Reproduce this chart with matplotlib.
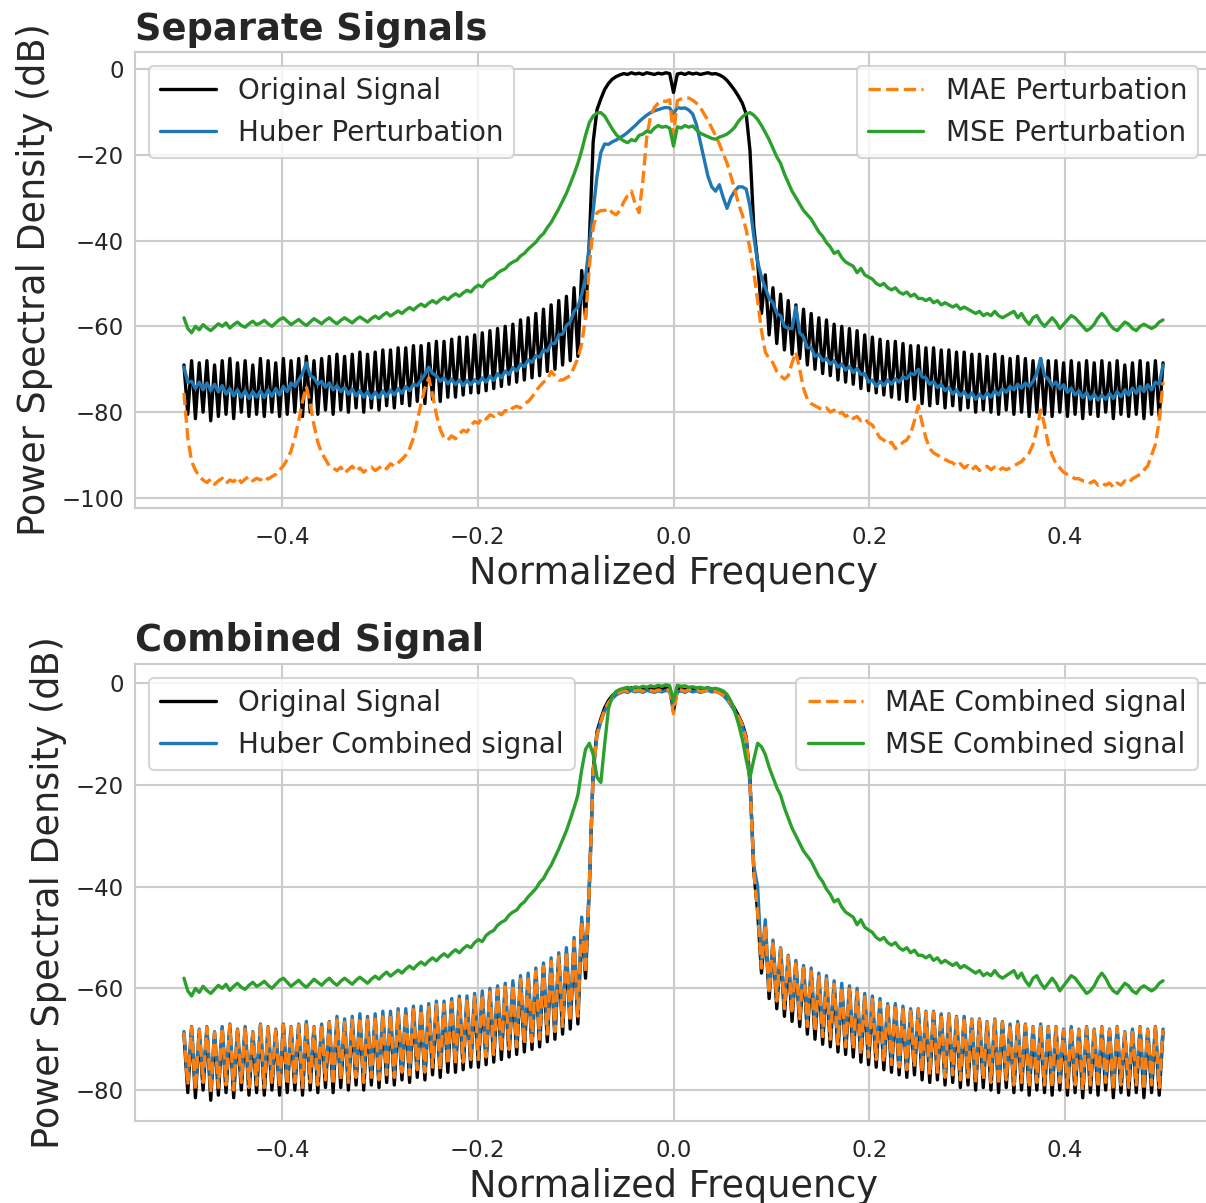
import numpy as np
import matplotlib
matplotlib.use("Agg")
import matplotlib.pyplot as plt
from matplotlib.ticker import MultipleLocator

# ---------------------------------------------------------------------------
# Power spectral densities (dB) sampled on a 257-bin normalized frequency grid
# ---------------------------------------------------------------------------
n_bins = 257
freq = np.linspace(-0.5, 0.5, n_bins)

original_psd = [
    -69.0, -80.5, -68.0, -81.5, -68.5, -80.0, -68.0, -82.0, -69.0, -81.0,
    -68.0, -80.5, -67.5, -81.5, -68.5, -80.0, -68.0, -81.0, -69.0, -80.5,
    -67.5, -81.0, -68.0, -80.0, -68.5, -81.0, -67.5, -80.5, -68.0, -80.0,
    -67.5, -81.0, -67.0, -80.0, -68.0, -80.5, -67.5, -79.5, -67.0, -80.5,
    -66.5, -79.5, -67.0, -80.0, -66.5, -79.0, -66.0, -80.0, -66.5, -79.0,
    -66.0, -79.5, -65.5, -78.5, -65.5, -79.0, -65.0, -78.0, -65.0, -78.5,
    -64.5, -77.5, -64.5, -78.0, -64.0, -77.0, -63.5, -77.5, -63.5, -76.5,
    -63.0, -76.5, -62.5, -76.0, -62.5, -75.5, -62.0, -75.5, -61.5, -75.0,
    -61.0, -74.5, -60.5, -74.0, -60.0, -73.5, -59.5, -73.0, -58.5, -72.5,
    -58.0, -72.0, -57.0, -71.5, -56.0, -70.5, -55.0, -70.0, -54.0, -69.0,
    -53.0, -68.0, -51.0, -67.0, -47.0, -58.0, -40.0, -17.0,
    -9.5, -7.0, -4.8, -3.4, -2.4, -1.8, -1.4, -1.1, -1.3, -0.9,
    -1.2, -1.0, -1.3, -0.9, -1.1, -1.3, -1.0, -1.2, -0.9, -1.1,
    -5.5, -1.2, -1.0, -1.3, -0.9, -1.2, -1.0, -1.3, -1.1, -0.9,
    -1.2, -1.1, -1.4, -1.9, -2.7, -3.8, -5.0, -6.4, -8.0, -10.5,
    -19.0, -37.0, -45.0, -57.0, -48.0, -62.0,
    -51.0, -64.0, -52.5, -65.5, -54.0, -66.5, -55.0, -67.5, -56.0, -69.0,
    -57.0, -70.0, -58.0, -71.0, -58.5, -71.5, -59.5, -72.5, -60.0, -73.0,
    -60.5, -73.5, -61.0, -74.5, -62.0, -75.0, -62.5, -75.5, -63.0, -76.0,
    -63.5, -76.5, -63.5, -77.0, -64.0, -77.5, -64.5, -77.0, -64.5, -78.0,
    -65.0, -78.5, -65.0, -78.0, -65.5, -79.0, -65.5, -78.5, -66.0, -79.5,
    -66.0, -79.0, -66.5, -80.0, -66.5, -79.5, -67.0, -80.0, -66.5, -80.5,
    -67.0, -79.5, -67.5, -80.5, -67.0, -80.0, -67.5, -81.0, -68.0, -80.0,
    -67.5, -80.5, -68.0, -81.0, -68.0, -80.0, -68.5, -81.0, -68.0, -80.5,
    -68.5, -81.5, -68.0, -80.5, -68.5, -81.0, -68.0, -80.0, -68.5, -81.5,
    -68.0, -80.5, -69.0, -81.0, -68.5, -80.5, -68.0, -81.5, -68.5, -80.5,
    -68.0, -81.0, -68.5,
]

huber_perturbation = [
    -69.5, -73.0, -72.8, -74.5, -73.0, -74.8, -73.2, -75.0, -73.5, -75.3,
    -73.8, -75.8, -74.5, -76.2, -74.8, -76.5, -75.0, -76.8, -75.2, -76.5,
    -75.0, -76.6, -74.8, -76.3, -74.5, -76.0, -74.0, -75.2, -73.2, -74.0,
    -72.5, -71.0, -68.5, -71.5, -72.0, -73.5, -72.8, -74.2, -73.2, -74.8,
    -73.8, -75.2, -74.2, -75.8, -74.6, -76.2, -75.0, -76.5, -75.2, -76.8,
    -75.3, -76.6, -75.0, -76.4, -74.8, -76.0, -74.5, -75.6, -74.0, -75.0,
    -73.5, -73.8, -72.5, -71.2, -69.5, -71.0, -71.5, -72.8, -72.0, -73.4,
    -72.3, -73.6, -72.5, -73.8, -72.6, -73.6, -72.4, -73.3, -72.0, -73.0,
    -71.6, -72.6, -71.0, -72.0, -70.4, -71.2, -69.6, -70.4, -68.8, -69.4,
    -67.8, -68.4, -66.8, -67.2, -65.5, -65.8, -64.0, -64.0, -62.0, -61.8,
    -59.8, -59.0, -56.5, -55.5, -52.5, -48.5, -41.0, -33.0, -25.0, -19.5,
    -17.5, -17.6, -17.0, -16.6, -16.0, -15.5, -14.8, -14.0, -13.2, -12.3,
    -11.5, -10.8, -10.2, -9.8, -9.5, -9.2, -9.0, -9.1, -10.5, -9.0,
    -9.2, -9.1, -9.6, -10.5, -13.0, -17.0, -21.0, -25.0, -27.5, -28.5,
    -27.0, -30.0, -32.5, -30.0, -28.5, -27.5, -27.5, -28.0, -32.0, -39.0,
    -45.0, -48.5, -51.0, -53.5, -54.5, -57.0, -57.5, -60.0, -60.5, -60.5,
    -55.5, -61.5, -62.5, -65.0, -65.0, -67.0, -66.5, -68.0, -67.5, -68.8,
    -68.0, -69.5, -68.8, -70.2, -69.3, -70.8, -69.8, -71.2, -71.0, -73.0,
    -72.5, -74.0, -72.8, -73.8, -72.5, -73.5, -72.2, -73.0, -71.8, -72.2,
    -71.0, -71.2, -70.0, -71.8, -72.0, -73.5, -72.8, -74.3, -73.5, -75.0,
    -74.2, -75.8, -74.8, -76.2, -75.2, -76.6, -75.5, -77.0, -75.8, -76.8,
    -75.5, -76.5, -75.0, -76.0, -74.5, -75.4, -74.0, -74.8, -73.5, -74.4,
    -73.2, -74.0, -72.8, -71.0, -67.5, -71.5, -72.3, -73.8, -73.0, -74.6,
    -73.6, -75.4, -74.4, -76.0, -75.0, -76.6, -75.4, -77.0, -75.8, -77.2,
    -76.0, -77.0, -75.6, -76.8, -75.2, -76.4, -74.8, -76.0, -74.4, -75.6,
    -74.0, -75.2, -73.6, -74.8, -73.0, -73.5, -69.0,
]

mae_perturbation = [
    -75.5, -86.0, -91.5, -93.5, -95.0, -95.8, -96.4, -95.6, -96.8, -96.0,
    -95.4, -96.6, -95.8, -96.2, -95.2, -96.4, -95.6, -95.0, -96.0, -95.4,
    -95.8, -95.0, -95.6, -95.0, -94.5, -93.5, -92.5, -91.0, -89.0, -86.0,
    -82.0, -77.5, -74.0, -78.0, -83.0, -87.0, -89.5, -91.0, -92.5, -93.0,
    -93.6, -92.8, -94.2, -93.4, -92.6, -93.8, -93.0, -94.0, -93.2, -92.8,
    -93.6, -93.0, -92.4, -93.2, -92.0, -92.6, -91.8, -91.0, -90.0, -88.5,
    -86.0, -82.0, -78.0, -74.5, -72.0, -76.0, -80.5, -84.0, -86.0, -86.5,
    -85.5, -86.2, -85.0, -84.2, -84.6, -83.2, -82.2, -82.6, -81.2, -81.6,
    -80.6, -81.0, -80.0, -80.6, -79.6, -80.0, -79.0, -78.6, -79.0, -78.0,
    -77.5, -76.5, -75.0, -74.0, -73.0, -72.5, -70.5, -71.5, -72.5, -72.5,
    -72.0, -71.5, -69.5, -67.5, -64.0, -58.0, -46.0, -37.0, -33.5, -33.0,
    -33.0, -32.5, -33.5, -34.0, -33.0, -31.0, -29.5, -28.5, -31.5, -33.5,
    -26.0, -16.0, -11.0, -9.0, -8.0, -7.4, -7.6, -7.2, -15.5, -7.4,
    -7.0, -6.7, -6.8, -7.3, -8.0, -9.0, -10.5, -12.0, -13.8, -15.5,
    -17.5, -19.8, -22.0, -25.0, -28.0, -31.5, -34.0, -37.5, -42.0, -47.5,
    -54.0, -61.0, -66.0, -67.5, -68.5, -70.5, -71.5, -72.3, -71.5, -68.5,
    -66.0, -70.0, -74.5, -77.0, -78.0, -78.5, -79.0, -79.5, -79.0, -80.0,
    -79.5, -80.5, -80.0, -81.0, -80.5, -81.5, -81.0, -82.0, -81.5, -82.5,
    -83.0, -84.5, -86.0, -86.5, -87.5, -87.0, -88.5, -88.0, -87.0, -86.5,
    -85.0, -82.0, -78.5, -82.5, -86.0, -88.5, -89.5, -90.0, -90.5, -91.0,
    -91.5, -91.8, -92.6, -92.0, -93.0, -92.4, -93.4, -92.6, -93.6, -93.0,
    -92.6, -93.4, -92.8, -93.6, -93.0, -93.4, -93.0, -92.5, -92.0, -91.5,
    -90.5, -89.5, -87.5, -84.0, -79.5, -83.0, -87.5, -90.0, -92.0, -93.0,
    -94.0, -94.5, -95.0, -95.5, -95.5, -96.0, -96.0, -96.5, -96.0, -97.0,
    -96.5, -97.0, -96.5, -97.5, -96.5, -97.0, -96.0, -96.5, -95.5, -95.0,
    -94.5, -93.5, -92.5, -90.0, -87.5, -82.0, -73.0,
]

mse_perturbation = [
    -58.0, -60.5, -61.5, -60.0, -60.8, -59.6, -60.4, -61.0, -60.2, -59.4,
    -60.0, -59.2, -60.4, -59.6, -59.0, -59.8, -60.2, -59.4, -58.8, -59.6,
    -59.2, -58.6, -59.4, -60.0, -59.2, -58.4, -58.0, -58.8, -59.6, -59.0,
    -58.4, -59.2, -59.8, -59.0, -58.2, -58.8, -59.4, -58.6, -58.0, -58.8,
    -59.4, -58.6, -58.0, -58.6, -59.2, -58.4, -57.8, -58.4, -59.0, -58.2,
    -57.6, -58.2, -57.4, -56.8, -57.6, -57.0, -56.4, -57.0, -56.2, -55.6,
    -56.2, -55.4, -54.8, -55.4, -54.6, -54.0, -54.6, -53.8, -53.2, -53.8,
    -53.0, -52.4, -53.0, -52.2, -51.6, -52.0, -51.0, -50.4, -50.8, -49.6,
    -49.0, -48.6, -47.6, -47.0, -46.6, -45.6, -45.0, -44.6, -43.6, -43.0,
    -42.0, -41.2, -40.4, -39.2, -38.4, -37.0, -35.8, -34.2, -32.6, -30.8,
    -29.0, -26.8, -24.5, -22.0, -19.0, -15.5, -12.5, -11.0, -10.3, -10.2,
    -11.0, -12.5, -14.0, -15.3, -16.2, -16.8, -17.2, -16.5, -16.8, -15.5,
    -15.2, -14.5, -14.8, -13.8, -13.2, -13.6, -13.4, -13.8, -18.0, -13.5,
    -13.8, -13.2, -13.6, -13.3, -14.2, -15.0, -15.4, -15.8, -16.2, -16.4,
    -15.9, -15.6, -15.2, -14.5, -13.6, -12.2, -11.2, -10.5, -10.2, -10.8,
    -11.8, -13.2, -14.8, -16.5, -18.5, -20.5, -22.0, -24.5, -26.5, -28.5,
    -30.0, -31.5, -33.0, -34.0, -35.0, -36.5, -38.0, -39.0, -40.5, -41.5,
    -43.0, -42.5, -44.0, -45.0, -45.5, -46.0, -47.5, -46.5, -48.0, -48.5,
    -49.0, -50.0, -50.5, -50.0, -51.0, -51.5, -51.0, -52.0, -52.5, -52.0,
    -53.0, -52.5, -53.5, -53.5, -54.0, -53.5, -54.5, -54.0, -55.0, -54.5,
    -55.0, -55.5, -55.0, -56.0, -55.5, -56.0, -56.5, -57.0, -56.5, -57.5,
    -57.0, -57.5, -56.5, -57.5, -58.0, -57.5, -57.0, -56.5, -58.0, -57.0,
    -58.5, -59.5, -58.0, -57.5, -59.0, -60.0, -59.0, -58.0, -59.0, -60.5,
    -59.5, -58.5, -57.5, -58.0, -59.0, -60.0, -61.0, -60.5, -59.5, -58.0,
    -57.0, -58.0, -59.5, -60.5, -61.0, -60.0, -59.0, -59.5, -60.5, -61.0,
    -60.0, -59.5, -60.0, -60.5, -60.0, -59.0, -58.5,
]

huber_combined = [
    -68.5, -78.0, -67.5, -79.0, -68.0, -77.5, -67.5, -79.5, -68.5, -78.5,
    -67.5, -78.0, -67.0, -79.0, -68.0, -77.5, -67.5, -78.5, -68.5, -78.0,
    -67.0, -78.5, -67.5, -77.5, -68.0, -78.5, -67.0, -78.0, -67.5, -77.5,
    -67.0, -78.5, -66.5, -77.5, -67.5, -78.0, -67.0, -77.0, -66.5, -78.0,
    -65.5, -77.0, -66.0, -77.5, -65.5, -76.5, -65.0, -77.5, -65.5, -76.5,
    -65.0, -77.0, -64.5, -76.0, -64.5, -76.5, -64.0, -75.5, -64.0, -76.0,
    -63.5, -75.0, -63.5, -75.5, -63.0, -74.5, -62.5, -75.0, -62.5, -74.0,
    -62.0, -74.0, -61.5, -73.5, -61.5, -73.0, -61.0, -73.0, -60.5, -72.5,
    -60.0, -72.0, -59.5, -71.5, -59.0, -71.0, -58.5, -70.5, -57.5, -70.0,
    -57.0, -69.5, -56.0, -69.0, -55.0, -68.0, -54.0, -67.5, -53.0, -66.5,
    -52.0, -65.5, -50.0, -64.5, -46.0, -56.0, -39.5, -17.5,
    -10.2, -7.6, -5.4, -4.0, -3.0, -2.3, -1.9, -1.6, -1.8, -1.4,
    -1.7, -1.5, -1.8, -1.4, -1.6, -1.8, -1.5, -1.7, -1.4, -1.6,
    -4.5, -1.7, -1.5, -1.8, -1.4, -1.7, -1.5, -1.8, -1.6, -1.4,
    -1.7, -1.6, -1.9, -2.4, -3.2, -4.3, -5.5, -6.9, -8.5, -11.0,
    -20.0, -36.0, -40.0, -55.0, -46.5, -60.5,
    -50.5, -61.5, -52.0, -63.0, -53.5, -64.0, -54.5, -65.0, -55.5, -66.5,
    -56.0, -67.5, -57.0, -68.5, -57.5, -69.0, -58.5, -70.0, -59.0, -70.5,
    -59.5, -71.0, -60.0, -72.0, -61.0, -72.5, -61.5, -73.0, -62.0, -73.5,
    -63.0, -74.0, -63.0, -74.5, -63.5, -75.0, -64.0, -74.5, -64.0, -75.5,
    -64.5, -76.0, -64.5, -75.5, -65.0, -76.5, -65.0, -76.0, -65.5, -77.0,
    -65.5, -76.5, -66.0, -77.5, -66.0, -77.0, -66.5, -77.5, -66.0, -78.0,
    -66.5, -77.0, -67.0, -78.0, -66.5, -77.5, -67.0, -78.5, -67.5, -77.5,
    -67.0, -78.0, -67.5, -78.5, -67.5, -77.5, -68.0, -78.5, -67.5, -78.0,
    -68.0, -79.0, -67.5, -78.0, -68.0, -78.5, -67.5, -77.5, -68.0, -79.0,
    -67.5, -78.0, -68.5, -78.5, -68.0, -78.0, -67.5, -79.0, -68.0, -78.0,
    -67.5, -78.5, -68.0,
]

mae_combined = [
    -68.7, -79.0, -67.7, -80.0, -68.2, -78.5, -67.7, -80.5, -68.7, -79.5,
    -67.7, -79.0, -67.2, -80.0, -68.2, -78.5, -67.7, -79.5, -68.7, -79.0,
    -67.2, -79.5, -67.7, -78.5, -68.2, -79.5, -67.2, -79.0, -67.7, -78.5,
    -67.2, -79.5, -66.7, -78.5, -67.7, -79.0, -67.2, -78.0, -66.7, -79.0,
    -66.2, -78.0, -66.7, -78.5, -66.2, -77.5, -65.7, -78.5, -66.2, -77.5,
    -65.7, -78.0, -65.2, -77.0, -65.2, -77.5, -64.7, -76.5, -64.7, -77.0,
    -64.2, -76.0, -64.2, -76.5, -63.7, -75.5, -63.2, -76.0, -63.2, -75.0,
    -62.7, -75.0, -62.2, -74.5, -62.2, -74.0, -61.7, -74.0, -61.2, -73.5,
    -60.7, -73.0, -60.2, -72.5, -59.7, -72.0, -59.2, -71.5, -58.2, -71.0,
    -57.7, -70.5, -56.7, -70.0, -55.7, -69.0, -54.7, -68.5, -53.7, -67.5,
    -52.7, -66.5, -50.7, -65.5, -47.0, -57.0, -40.0, -17.5,
    -10.0, -7.5, -5.2, -3.8, -2.8, -2.1, -1.7, -1.4, -1.6, -1.2,
    -1.5, -1.3, -1.6, -1.2, -1.4, -1.6, -1.3, -1.5, -1.2, -1.4,
    -6.0, -1.5, -1.3, -1.6, -1.2, -1.5, -1.3, -1.6, -1.5, -1.4,
    -1.7, -1.6, -1.9, -2.3, -3.0, -4.0, -5.2, -6.6, -8.2, -10.8,
    -19.5, -37.0, -45.0, -56.0, -47.5, -61.0,
    -50.7, -62.5, -52.2, -64.0, -53.7, -65.0, -54.7, -66.0, -55.7, -67.5,
    -56.7, -68.5, -57.7, -69.5, -58.2, -70.0, -59.2, -71.0, -59.7, -71.5,
    -60.2, -72.0, -60.7, -73.0, -61.7, -73.5, -62.2, -74.0, -62.7, -74.5,
    -63.2, -75.0, -63.2, -75.5, -63.7, -76.0, -64.2, -75.5, -64.2, -76.5,
    -64.7, -77.0, -64.7, -76.5, -65.2, -77.5, -65.2, -77.0, -65.7, -78.0,
    -65.7, -77.5, -66.2, -78.5, -66.2, -78.0, -66.7, -78.5, -66.2, -79.0,
    -66.7, -78.0, -67.2, -79.0, -66.7, -78.5, -67.2, -79.5, -67.7, -78.5,
    -67.2, -79.0, -67.7, -79.5, -67.7, -78.5, -68.2, -79.5, -67.7, -79.0,
    -68.2, -80.0, -67.7, -79.0, -68.2, -79.5, -67.7, -78.5, -68.2, -80.0,
    -67.7, -79.0, -68.7, -79.5, -68.2, -79.0, -67.7, -80.0, -68.2, -79.0,
    -67.7, -79.5, -68.2,
]

# MSE combined signal: passband section (bins 104-153); outside it the
# combined spectrum follows the MSE perturbation spectrum.
mse_combined_passband = [
    -17.0, -13.0, -11.8, -14.0, -18.5, -19.5, -12.0, -5.0, -2.5, -1.6,
    -1.2, -1.0, -0.8, -1.1, -0.7, -0.9, -0.6, -0.8, -0.5, -0.7,
    -0.4, -0.6, -0.3, -0.5, -3.5, -0.4, -0.6, -0.5, -0.8, -0.7,
    -0.9, -0.8, -1.0, -0.9, -1.1, -1.0, -1.2, -1.5, -2.2, -3.5,
    -5.5, -8.0, -11.0, -15.0, -18.5, -15.0, -11.8, -12.5, -14.0, -16.5,
]
mse_combined = mse_perturbation[:104] + mse_combined_passband + mse_perturbation[154:]

series = {
    "original_psd": original_psd, "huber_perturbation": huber_perturbation,
    "mae_perturbation": mae_perturbation, "mse_perturbation": mse_perturbation,
    "huber_combined": huber_combined, "mae_combined": mae_combined,
    "mse_combined": mse_combined,
}
bad = {k: len(v) for k, v in series.items() if len(v) != n_bins}
if bad:
    raise ValueError(f"series length mismatch: {bad}")

# ---------------------------------------------------------------------------
# Styling
# ---------------------------------------------------------------------------
TEXT = "#262626"
GRID = "#cccccc"
plt.rcParams.update({
    "font.family": "DejaVu Sans",
    "text.color": TEXT,
    "axes.labelcolor": TEXT,
    "xtick.color": TEXT,
    "ytick.color": TEXT,
    "axes.edgecolor": GRID,
    "axes.linewidth": 1.5,
    "grid.color": GRID,
    "grid.linewidth": 1.5,
    "lines.solid_capstyle": "round",
})

C_BLACK, C_BLUE, C_ORANGE, C_GREEN = "#000000", "#1f77b4", "#ff7f0e", "#2ca02c"
LW = 2.4

W, H = 1206, 1203
fig = plt.figure(figsize=(W / 100, H / 100), dpi=100)


def add_axes_px(left, top, right, bottom):
    return fig.add_axes([left / W, 1 - bottom / H, (right - left) / W, (bottom - top) / H])


ax_top = add_axes_px(135, 52, 1212, 508)
ax_bot = add_axes_px(135, 664, 1212, 1121)


def style_axes(ax, title):
    ax.set_axisbelow(True)
    ax.grid(True)
    ax.set_title(title, loc="left", fontsize=26.5, fontweight="bold", pad=9)
    ax.set_xlabel("Normalized Frequency", fontsize=26.4, labelpad=4)
    ax.set_ylabel("Power Spectral Density (dB)", fontsize=26.4, labelpad=6)
    ax.tick_params(axis="both", length=0, labelsize=16.5)
    ax.tick_params(axis="x", pad=13)
    ax.tick_params(axis="y", pad=8)
    ax.set_xticks([-0.4, -0.2, 0.0, 0.2, 0.4])
    ax.yaxis.set_major_locator(MultipleLocator(20))


def add_legends(ax, handles_left, handles_right):
    kw = dict(fontsize=20, frameon=True, fancybox=True, framealpha=0.8,
              edgecolor=GRID, facecolor="white")
    leg1 = ax.legend(handles=handles_left, loc="upper left", **kw)
    leg1.get_frame().set_linewidth(1.5)
    ax.add_artist(leg1)
    leg2 = ax.legend(handles=handles_right, loc="upper right", **kw)
    leg2.get_frame().set_linewidth(1.5)


# Top panel: individual signals
h_orig, = ax_top.plot(freq, original_psd, color=C_BLACK, lw=LW, label="Original Signal")
h_hub, = ax_top.plot(freq, huber_perturbation, color=C_BLUE, lw=LW, label="Huber Perturbation")
h_mae, = ax_top.plot(freq, mae_perturbation, color=C_ORANGE, lw=LW, ls="--", label="MAE Perturbation")
h_mse, = ax_top.plot(freq, mse_perturbation, color=C_GREEN, lw=LW, label="MSE Perturbation")
style_axes(ax_top, "Separate Signals")
add_legends(ax_top, [h_orig, h_hub], [h_mae, h_mse])

# Bottom panel: original + perturbation
g_orig, = ax_bot.plot(freq, original_psd, color=C_BLACK, lw=LW, label="Original Signal")
g_hub, = ax_bot.plot(freq, huber_combined, color=C_BLUE, lw=LW, label="Huber Combined signal")
g_mae, = ax_bot.plot(freq, mae_combined, color=C_ORANGE, lw=LW, ls="--", label="MAE Combined signal")
g_mse, = ax_bot.plot(freq, mse_combined, color=C_GREEN, lw=LW, label="MSE Combined signal")
style_axes(ax_bot, "Combined Signal")
add_legends(ax_bot, [g_orig, g_hub], [g_mae, g_mse])

fig.savefig("out.png", dpi=100)
